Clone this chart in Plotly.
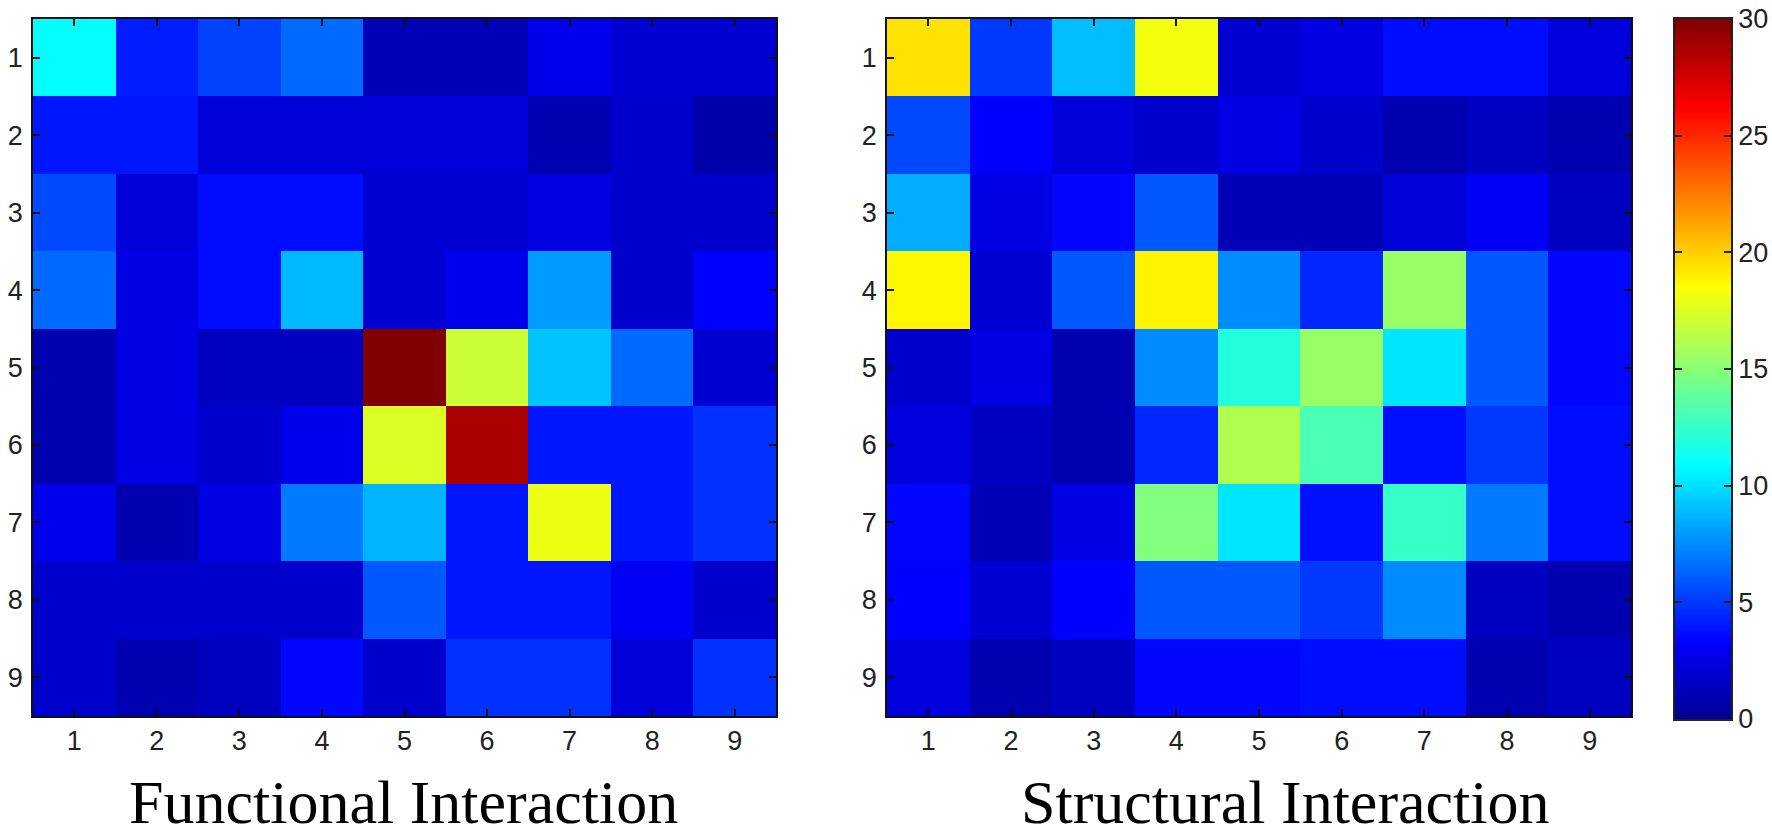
import plotly.graph_objects as go

W = 1772
H = 830

tick_vals = [1, 2, 3, 4, 5, 6, 7, 8, 9]
cbar_ticks = [0, 5, 10, 15, 20, 25, 30]
cbar_levels = list(range(0, 31))

functional = [
    [11.0, 4.2, 5.3, 6.5, 1.2, 1.2, 2.7, 2.0, 2.0],
    [4.0, 4.0, 2.2, 2.2, 2.2, 2.2, 1.0, 1.8, 0.8],
    [5.5, 2.2, 3.7, 3.7, 2.0, 2.0, 2.5, 1.8, 1.8],
    [6.5, 2.5, 3.7, 8.9, 2.0, 2.7, 8.0, 1.8, 3.3],
    [1.0, 2.5, 1.5, 1.5, 30.0, 17.0, 9.2, 6.5, 2.0],
    [1.0, 2.5, 1.8, 2.7, 17.5, 28.7, 4.0, 4.0, 4.8],
    [2.8, 1.0, 2.5, 7.0, 8.7, 4.0, 18.0, 4.0, 4.8],
    [1.8, 1.8, 1.8, 1.8, 6.0, 4.0, 4.0, 3.0, 1.8],
    [1.8, 1.0, 1.5, 3.5, 1.8, 4.8, 4.8, 2.2, 4.8],
]

structural = [
    [19.4, 5.0, 9.0, 18.2, 2.0, 2.5, 3.7, 3.7, 2.3],
    [5.5, 3.3, 2.2, 1.8, 2.5, 1.8, 1.0, 1.5, 1.0],
    [8.5, 2.5, 3.5, 6.0, 1.2, 1.2, 2.2, 3.0, 1.5],
    [18.8, 2.0, 6.0, 18.9, 7.5, 4.5, 15.5, 6.0, 3.5],
    [1.8, 2.5, 1.0, 7.5, 12.0, 15.5, 10.2, 6.0, 3.5],
    [2.3, 1.5, 1.0, 4.5, 16.2, 13.2, 3.8, 5.0, 3.7],
    [3.5, 1.2, 2.5, 14.8, 10.2, 3.8, 12.6, 7.0, 3.7],
    [3.3, 2.0, 3.3, 6.0, 6.0, 5.0, 7.5, 1.5, 1.0],
    [2.3, 1.0, 1.5, 3.5, 3.5, 3.7, 3.7, 1.0, 1.5],
]

# matlab jet(64)
jet = [
    [0.0, "#00008f"],
    [0.111, "#0000ff"],
    [0.365, "#00ffff"],
    [0.619, "#ffff00"],
    [0.873, "#ff0000"],
    [1.0, "#800000"],
]

tick_font = dict(family="Liberation Sans", size=27, color="#222222")
title_font = dict(family="Liberation Serif", size=62, color="#000000")


def dom_x(a, b):
    return [a / W, b / W]


def dom_y(top, bottom):
    return [1 - bottom / H, 1 - top / H]


def panel_axis(domain, **kw):
    return dict(
        domain=domain,
        automargin=False,
        tickmode="array",
        tickvals=tick_vals,
        ticks="inside",
        ticklen=7,
        tickwidth=1.5,
        tickcolor="#111111",
        tickfont=tick_font,
        showline=True,
        linecolor="#111111",
        linewidth=1.5,
        mirror="ticks",
        showgrid=False,
        zeroline=False,
        **kw,
    )


fig = go.Figure()
fig.add_trace(go.Heatmap(z=functional, x=tick_vals, y=tick_vals, xaxis="x", yaxis="y",
                         coloraxis="coloraxis"))
fig.add_trace(go.Heatmap(z=structural, x=tick_vals, y=tick_vals, xaxis="x2", yaxis="y2",
                         coloraxis="coloraxis"))
fig.add_trace(go.Heatmap(z=[[v] for v in cbar_levels], y=cbar_levels, x=[0], xaxis="x3", yaxis="y3",
                         coloraxis="coloraxis", zsmooth="best"))

fig.update_layout(
    width=W,
    height=H,
    margin=dict(l=0, r=0, t=0, b=0),
    paper_bgcolor="white",
    plot_bgcolor="white",
    coloraxis=dict(colorscale=jet, cmin=0, cmax=30, showscale=False),
    xaxis=panel_axis(dom_x(33, 776), range=[0.5, 9.5], anchor="y"),
    yaxis=panel_axis(dom_y(19, 716), range=[9.5, 0.5], anchor="x", ticklabelstandoff=3),
    xaxis2=panel_axis(dom_x(887, 1631), range=[0.5, 9.5], anchor="y2"),
    yaxis2=panel_axis(dom_y(19, 716), range=[9.5, 0.5], anchor="x2", ticklabelstandoff=3),
    xaxis3=dict(domain=dom_x(1675, 1731), anchor="y3", automargin=False, showticklabels=False, ticks="",
                showline=True, linecolor="#222222", linewidth=1.5, mirror=True,
                showgrid=False, zeroline=False, range=[-0.5, 0.5]),
    yaxis3=dict(domain=dom_y(19, 719), anchor="x3", automargin=False, side="right", range=[0, 30],
                tickmode="array", tickvals=cbar_ticks, ticks="inside", ticklen=7, tickwidth=1.5,
                tickcolor="#222222", tickfont=tick_font, showline=True, linecolor="#222222",
                linewidth=1.5, mirror="ticks", showgrid=False, zeroline=False),
    annotations=[
        dict(text="Functional Interaction", x=403 / W, y=1 - 838 / H, xref="paper", yref="paper",
             xanchor="center", yanchor="bottom", showarrow=False, font=title_font),
        dict(text="Structural Interaction", x=1285 / W, y=1 - 838 / H, xref="paper", yref="paper",
             xanchor="center", yanchor="bottom", showarrow=False, font=title_font),
    ],
)

fig.write_html("out.html", config=dict(displayModeBar=False), post_script="document.body.style.margin='0';")
